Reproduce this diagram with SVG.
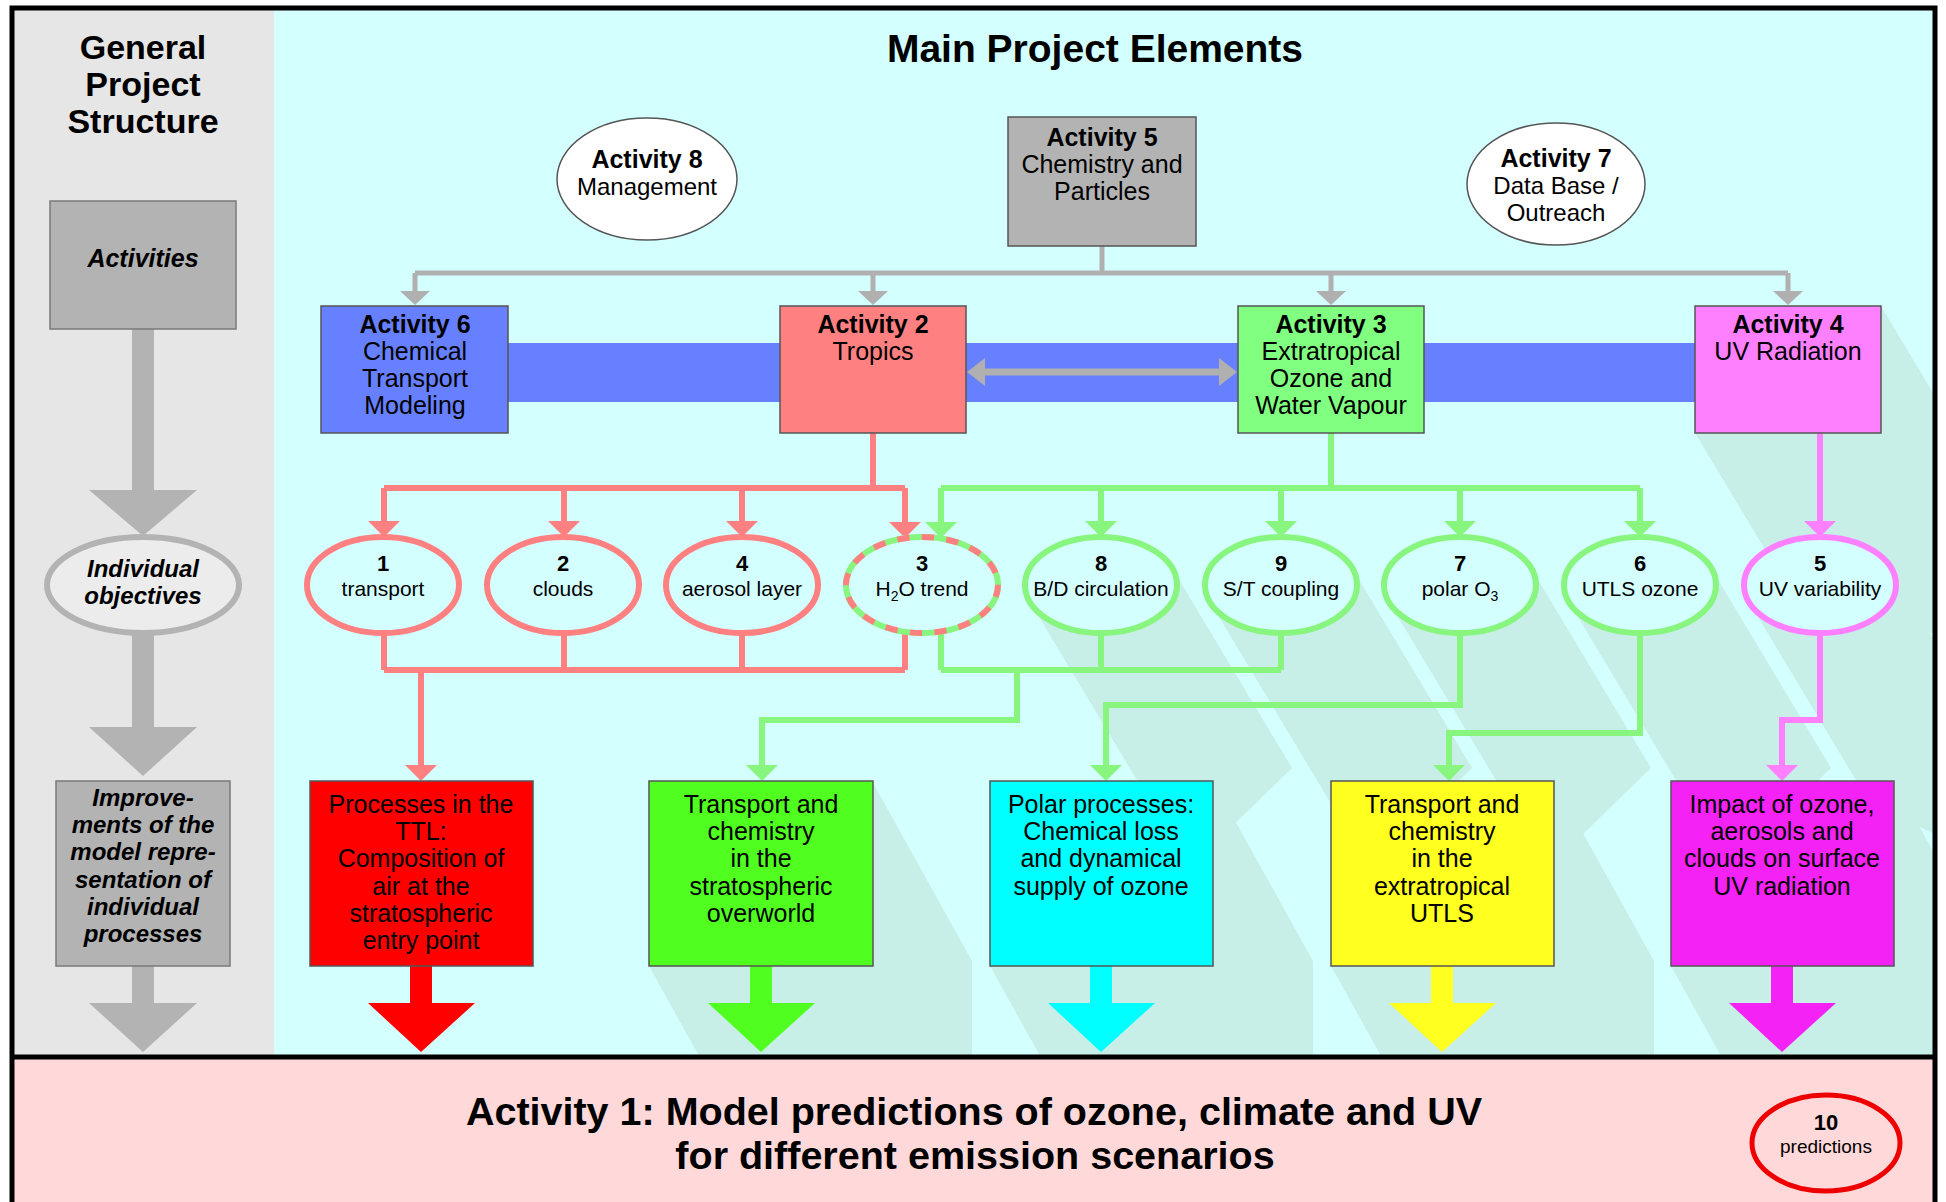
<svg xmlns="http://www.w3.org/2000/svg" width="1946" height="1202" viewBox="0 0 1946 1202">
<style>
text{font-family:"Liberation Sans",Arial,Helvetica,sans-serif;fill:#000;text-anchor:middle}
.b{font-weight:bold}
.bi{font-weight:bold;font-style:italic}
.f25{font-size:25px}
.f24{font-size:24px}
.f21{font-size:21px}
.f22{font-size:22px}
.box{stroke:#555;stroke-width:1.5}
.cr{fill:none;stroke:#ff8080;stroke-width:6}
.cg{fill:none;stroke:#88f57f;stroke-width:6}
.cp{fill:none;stroke:#ff80ff;stroke-width:6}
.cgy{fill:none;stroke:#b0b0b0;stroke-width:5}
.obj{fill:#d4ffff;stroke-width:6}
.shadow{fill:#c8eee8}
</style>
<defs>
<clipPath id="cyanClip"><rect x="275" y="10" width="1658" height="1045"/></clipPath>
<marker id="ahR" markerUnits="userSpaceOnUse" markerWidth="16" markerHeight="32" viewBox="0 0 16 32" refX="12" refY="16" orient="auto"><path d="M0,0L16,16L0,32Z" fill="#ff8080"/></marker>
<marker id="ahG" markerUnits="userSpaceOnUse" markerWidth="16" markerHeight="32" viewBox="0 0 16 32" refX="12" refY="16" orient="auto"><path d="M0,0L16,16L0,32Z" fill="#88f57f"/></marker>
<marker id="ahP" markerUnits="userSpaceOnUse" markerWidth="16" markerHeight="32" viewBox="0 0 16 32" refX="12" refY="16" orient="auto"><path d="M0,0L16,16L0,32Z" fill="#ff80ff"/></marker>
<marker id="ahY" markerUnits="userSpaceOnUse" markerWidth="14" markerHeight="30" viewBox="0 0 14 30" refX="11" refY="15" orient="auto"><path d="M0,0L14,15L0,30Z" fill="#b0b0b0"/></marker>
</defs>

<!-- backgrounds -->
<g id="background">
<rect x="12" y="8" width="262" height="1050" fill="#e6e6e6"/>
<rect x="274" y="8" width="1661" height="1050" fill="#d4ffff"/>
<rect x="12" y="1058" width="1923" height="150" fill="#ffd9d9"/>
</g>

<!-- shadows -->
<g id="shadows" clip-path="url(#cyanClip)">
<polygon class="shadow" points="1695,306 1881,306 2001,506 2001,633 1815,633 1695,433"/>
<polygon class="shadow" points="1172,568 1292,768 1221,837 1150,802 1030,602"/>
<polygon class="shadow" points="1352,568 1472,768 1401,837 1330,802 1210,602"/>
<polygon class="shadow" points="1531,568 1651,768 1580,837 1509,802 1389,602"/>
<polygon class="shadow" points="1711,568 1831,768 1760,837 1689,802 1569,602"/>
<polygon class="shadow" points="1891,568 2011,768 1940,837 1869,802 1749,602"/>
<polygon class="shadow" points="649,781 872,781 972,961 972,1146 749,1146 649,966"/>
<polygon class="shadow" points="990,781 1213,781 1313,961 1313,1146 1090,1146 990,966"/>
<polygon class="shadow" points="1331,781 1554,781 1654,961 1654,1146 1431,1146 1331,966"/>
<polygon class="shadow" points="1671,781 1894,781 1994,961 1994,1146 1771,1146 1671,966"/>
</g>

<!-- frame -->
<g id="frame" fill="none" stroke="#000">
<rect x="12" y="8" width="1923" height="1250" stroke-width="5"/>
<line x1="12" y1="1057" x2="1935" y2="1057" stroke-width="5"/>
</g>

<!-- headings -->
<g id="heading-left">
<text class="b" x="143" y="59" font-size="34">General</text>
<text class="b" x="143" y="96" font-size="34">Project</text>
<text class="b" x="143" y="133" font-size="34">Structure</text>
</g>
<g id="heading-main">
<text class="b" x="1095" y="62" font-size="39">Main Project Elements</text>
</g>

<!-- blue band behind activities -->
<g id="band">
<rect x="508" y="343" width="1188" height="59" fill="#6680ff"/>
</g>

<!-- connectors -->
<g id="connectors">
<!-- left column grey arrows -->
<g fill="#b3b3b3">
<rect x="132" y="329" width="22" height="162"/>
<polygon points="89,490 197,490 143,536"/>
<rect x="132" y="632" width="22" height="96"/>
<polygon points="89,727 197,727 143,776"/>
<rect x="132" y="966" width="22" height="38"/>
<polygon points="89,1003 197,1003 143,1052"/>
</g>
<!-- grey distribution from Activity 5 -->
<path class="cgy" d="M1102,246V273M415,273H1788"/>
<path class="cgy" d="M415,273V302" marker-end="url(#ahY)"/>
<path class="cgy" d="M873,273V302" marker-end="url(#ahY)"/>
<path class="cgy" d="M1331,273V302" marker-end="url(#ahY)"/>
<path class="cgy" d="M1788,273V302" marker-end="url(#ahY)"/>
<!-- double arrow Activity 2 <-> Activity 3 -->
<line x1="980" y1="372" x2="1224" y2="372" stroke="#b0b0b0" stroke-width="7"/>
<polygon points="967,372 985,358 985,386" fill="#b0b0b0"/>
<polygon points="1237,372 1219,358 1219,386" fill="#b0b0b0"/>
<!-- red -->
<path class="cr" d="M873,433V488M384,488H905"/>
<path class="cr" d="M384,488V533" marker-end="url(#ahR)"/>
<path class="cr" d="M564,488V533" marker-end="url(#ahR)"/>
<path class="cr" d="M742,488V533" marker-end="url(#ahR)"/>
<path class="cr" d="M905,488V534" marker-end="url(#ahR)"/>
<path class="cr" d="M384,633V670M564,633V670M742,633V670M905,632V670M384,670H905"/>
<path class="cr" d="M421,670V777" marker-end="url(#ahR)"/>
<!-- green -->
<path class="cg" d="M1331,433V488M941,488H1640"/>
<path class="cg" d="M941,488V534" marker-end="url(#ahG)"/>
<path class="cg" d="M1101,488V533" marker-end="url(#ahG)"/>
<path class="cg" d="M1281,488V533" marker-end="url(#ahG)"/>
<path class="cg" d="M1460,488V533" marker-end="url(#ahG)"/>
<path class="cg" d="M1640,488V533" marker-end="url(#ahG)"/>
<path class="cg" d="M941,632V670M1101,633V670M1281,633V670M941,670H1281"/>
<path class="cg" d="M1017,670V720H762V777" marker-end="url(#ahG)"/>
<path class="cg" d="M1460,633V705H1106V777" marker-end="url(#ahG)"/>
<path class="cg" d="M1640,633V733H1449V777" marker-end="url(#ahG)"/>
<!-- pink -->
<path class="cp" d="M1820,433V533" marker-end="url(#ahP)"/>
<path class="cp" d="M1820,633V720H1782V777" marker-end="url(#ahP)"/>
<!-- big output arrows -->
<g>
<rect x="410" y="966" width="22" height="38" fill="#ff0000"/><polygon points="368,1003 475,1003 421,1052" fill="#ff0000"/>
<rect x="750" y="966" width="22" height="38" fill="#50ff20"/><polygon points="708,1003 815,1003 761,1052" fill="#50ff20"/>
<rect x="1090" y="966" width="22" height="38" fill="#00ffff"/><polygon points="1048,1003 1155,1003 1101,1052" fill="#00ffff"/>
<rect x="1431" y="966" width="22" height="38" fill="#ffff20"/><polygon points="1389,1003 1496,1003 1442,1052" fill="#ffff20"/>
<rect x="1771" y="966" width="22" height="38" fill="#f522f5"/><polygon points="1729,1003 1836,1003 1782,1052" fill="#f522f5"/>
</g>
</g>

<!-- left column nodes -->
<g id="activities-label">
<rect x="50" y="201" width="186" height="128" fill="#b3b3b3" stroke="#7a7a7a" stroke-width="1.5"/>
<text class="bi f25" x="143" y="267">Activities</text>
</g>
<g id="objectives-label">
<ellipse cx="143" cy="585" rx="96" ry="48" fill="#ececec" stroke="#b3b3b3" stroke-width="6"/>
<text class="bi f24" x="143" y="577">Individual</text>
<text class="bi f24" x="143" y="604">objectives</text>
</g>
<g id="improvements-label">
<rect x="56" y="781" width="174" height="185" fill="#b3b3b3" stroke="#7a7a7a" stroke-width="1.5"/>
<text class="bi f24" x="143" y="806">Improve-</text>
<text class="bi f24" x="143" y="833">ments of the</text>
<text class="bi f24" x="143" y="860">model repre-</text>
<text class="bi f24" x="143" y="888">sentation of</text>
<text class="bi f24" x="143" y="915">individual</text>
<text class="bi f24" x="143" y="942">processes</text>
</g>

<!-- top activity nodes -->
<g id="activity8">
<ellipse cx="647" cy="179" rx="90" ry="61" fill="#fff" stroke="#555" stroke-width="1.5"/>
<text class="b f25" x="647" y="168">Activity 8</text>
<text class="f24" x="647" y="195">Management</text>
</g>
<g id="activity5">
<rect x="1008" y="117" width="188" height="129" fill="#b3b3b3" class="box"/>
<text class="b f25" x="1102" y="146">Activity 5</text>
<text class="f25" x="1102" y="173">Chemistry and</text>
<text class="f25" x="1102" y="200">Particles</text>
</g>
<g id="activity7">
<ellipse cx="1556" cy="184" rx="89" ry="61" fill="#fff" stroke="#555" stroke-width="1.5"/>
<text class="b f25" x="1556" y="167">Activity 7</text>
<text class="f24" x="1556" y="194">Data Base /</text>
<text class="f24" x="1556" y="221">Outreach</text>
</g>
<g id="activity6">
<rect x="321" y="306" width="187" height="127" fill="#6680ff" class="box"/>
<text class="b f25" x="415" y="333">Activity 6</text>
<text class="f25" x="415" y="360">Chemical</text>
<text class="f25" x="415" y="387">Transport</text>
<text class="f25" x="415" y="414">Modeling</text>
</g>
<g id="activity2">
<rect x="780" y="306" width="186" height="127" fill="#ff8080" class="box"/>
<text class="b f25" x="873" y="333">Activity 2</text>
<text class="f25" x="873" y="360">Tropics</text>
</g>
<g id="activity3">
<rect x="1238" y="306" width="186" height="127" fill="#80ff80" class="box"/>
<text class="b f25" x="1331" y="333">Activity 3</text>
<text class="f25" x="1331" y="360">Extratropical</text>
<text class="f25" x="1331" y="387">Ozone and</text>
<text class="f25" x="1331" y="414">Water Vapour</text>
</g>
<g id="activity4">
<rect x="1695" y="306" width="186" height="127" fill="#ff80ff" class="box"/>
<text class="b f25" x="1788" y="333">Activity 4</text>
<text class="f25" x="1788" y="360">UV Radiation</text>
</g>

<!-- individual objectives -->
<g id="obj1">
<ellipse class="obj" cx="383" cy="585" rx="76" ry="48" stroke="#ff8080"/>
<text class="b f22" x="383" y="571">1</text>
<text class="f21" x="383" y="596">transport</text>
</g>
<g id="obj2">
<ellipse class="obj" cx="563" cy="585" rx="76" ry="48" stroke="#ff8080"/>
<text class="b f22" x="563" y="571">2</text>
<text class="f21" x="563" y="596">clouds</text>
</g>
<g id="obj4">
<ellipse class="obj" cx="742" cy="585" rx="76" ry="48" stroke="#ff8080"/>
<text class="b f22" x="742" y="571">4</text>
<text class="f21" x="742" y="596">aerosol layer</text>
</g>
<g id="obj3">
<ellipse class="obj" cx="922" cy="585" rx="76" ry="48" stroke="#88f57f"/>
<ellipse cx="922" cy="585" rx="76" ry="48" fill="none" stroke="#ff8080" stroke-width="6" stroke-dasharray="12.3 12.3"/>
<text class="b f22" x="922" y="571">3</text>
<text class="f21" x="922" y="596">H<tspan font-size="14" dy="5">2</tspan><tspan dy="-5">O trend</tspan></text>
</g>
<g id="obj8">
<ellipse class="obj" cx="1101" cy="585" rx="76" ry="48" stroke="#88f57f"/>
<text class="b f22" x="1101" y="571">8</text>
<text class="f21" x="1101" y="596">B/D circulation</text>
</g>
<g id="obj9">
<ellipse class="obj" cx="1281" cy="585" rx="76" ry="48" stroke="#88f57f"/>
<text class="b f22" x="1281" y="571">9</text>
<text class="f21" x="1281" y="596">S/T coupling</text>
</g>
<g id="obj7">
<ellipse class="obj" cx="1460" cy="585" rx="76" ry="48" stroke="#88f57f"/>
<text class="b f22" x="1460" y="571">7</text>
<text class="f21" x="1460" y="596">polar O<tspan font-size="14" dy="5">3</tspan></text>
</g>
<g id="obj6">
<ellipse class="obj" cx="1640" cy="585" rx="76" ry="48" stroke="#88f57f"/>
<text class="b f22" x="1640" y="571">6</text>
<text class="f21" x="1640" y="596">UTLS ozone</text>
</g>
<g id="obj5">
<ellipse class="obj" cx="1820" cy="585" rx="76" ry="48" stroke="#ff80ff"/>
<text class="b f22" x="1820" y="571">5</text>
<text class="f21" x="1820" y="596">UV variability</text>
</g>

<!-- process boxes -->
<g id="proc-ttl">
<rect x="310" y="781" width="223" height="185" fill="#ff0000" class="box"/>
<text class="f25" x="421" y="813">Processes in the</text>
<text class="f25" x="421" y="840">TTL:</text>
<text class="f25" x="421" y="867">Composition of</text>
<text class="f25" x="421" y="895">air at the</text>
<text class="f25" x="421" y="922">stratospheric</text>
<text class="f25" x="421" y="949">entry point</text>
</g>
<g id="proc-overworld">
<rect x="649" y="781" width="224" height="185" fill="#50ff20" class="box"/>
<text class="f25" x="761" y="813">Transport and</text>
<text class="f25" x="761" y="840">chemistry</text>
<text class="f25" x="761" y="867">in the</text>
<text class="f25" x="761" y="895">stratospheric</text>
<text class="f25" x="761" y="922">overworld</text>
</g>
<g id="proc-polar">
<rect x="990" y="781" width="223" height="185" fill="#00ffff" class="box"/>
<text class="f25" x="1101" y="813">Polar processes:</text>
<text class="f25" x="1101" y="840">Chemical loss</text>
<text class="f25" x="1101" y="867">and dynamical</text>
<text class="f25" x="1101" y="895">supply of ozone</text>
</g>
<g id="proc-utls">
<rect x="1331" y="781" width="223" height="185" fill="#ffff20" class="box"/>
<text class="f25" x="1442" y="813">Transport and</text>
<text class="f25" x="1442" y="840">chemistry</text>
<text class="f25" x="1442" y="867">in the</text>
<text class="f25" x="1442" y="895">extratropical</text>
<text class="f25" x="1442" y="922">UTLS</text>
</g>
<g id="proc-uv">
<rect x="1671" y="781" width="223" height="185" fill="#f522f5" class="box"/>
<text class="f25" x="1782" y="813">Impact of ozone,</text>
<text class="f25" x="1782" y="840">aerosols and</text>
<text class="f25" x="1782" y="867">clouds on surface</text>
<text class="f25" x="1782" y="895">UV radiation</text>
</g>

<!-- activity 1 -->
<g id="activity1">
<text class="b" x="974" y="1125" font-size="39.5">Activity 1: Model predictions of ozone, climate and UV</text>
<text class="b" x="975" y="1169" font-size="39.5">for different emission scenarios</text>
</g>
<g id="obj10">
<ellipse cx="1826" cy="1143" rx="74" ry="48" fill="none" stroke="#ee0000" stroke-width="5"/>
<text class="b f22" x="1826" y="1130">10</text>
<text x="1826" y="1153" font-size="19">predictions</text>
</g>
</svg>
